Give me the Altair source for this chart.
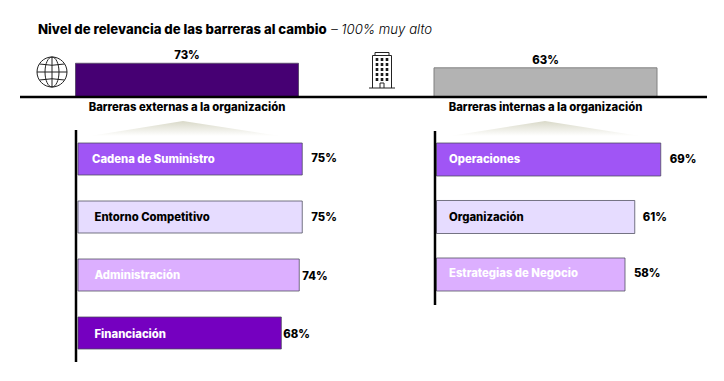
import altair as alt
import pandas as pd

FONT = "Inter"
TITLE = "Nivel de relevancia de las barreras al cambio"
SUBTITLE = "– 100% muy alto"

top_names = ["Barreras externas a la organización", "Barreras internas a la organización"]
top_values = [73, 63]
top_colors = ["#460073", "#b3b3b3"]
top_strokes = ["#5d4a70", "#808080"]

left_names = ["Cadena de Suministro", "Entorno Competitivo", "Administración", "Financiación"]
left_values = [75, 75, 74, 68]
left_colors = ["#a055f5", "#e6dcff", "#dcafff", "#7500c0"]
left_text = ["white", "black", "white", "white"]

right_names = ["Operaciones", "Organización", "Estrategias de Negocio"]
right_values = [69, 61, 58]
right_colors = ["#a055f5", "#e6dcff", "#dcafff"]
right_text = ["white", "black", "white"]

one = pd.DataFrame({"a": [0]})
layers = []


def px(x):
    return alt.value(x - 8)


def py(y):
    return alt.value(y - 8)


def free_text(text, x, y, **kw):
    opts = dict(font=FONT, fontSize=11.3, fontWeight=800, color="black", baseline="middle", align="left")
    opts.update(kw)
    return alt.Chart(one).mark_text(text=text, **opts).encode(x=px(x), y=py(y))


def rule(x, x2, y, y2, w):
    return alt.Chart(one).mark_rule(color="black", strokeWidth=w).encode(
        x=px(x), x2=px(x2), y=py(y), y2=py(y2)
    )


def icon(path, x, y, filled=False, width=1.0, **kw):
    opts = dict(shape=path, size=4, opacity=1)
    if filled:
        opts.update(filled=True, fill=kw.pop("fill", "#1a1a1a"), strokeWidth=0)
    else:
        opts.update(filled=False, stroke="#222222", strokeWidth=width)
    opts.update(kw)
    return alt.Chart(one).mark_point(**opts).encode(x=px(x), y=py(y))


def top_bar(i, x0, x1):
    df = pd.DataFrame({"name": [top_names[i]], "v": [top_values[i]]})
    df["lbl"] = df["v"].astype(str) + "%"
    xs = alt.X("name:N", axis=None, scale=alt.Scale(type="band", domain=[top_names[i]], range=[x0 - 8, x1 - 8], paddingInner=0, paddingOuter=0))
    ys = alt.Y("v:Q", axis=None, scale=alt.Scale(domain=[0, 100], range=[88.5, 43], nice=False))
    base = alt.Chart(df).encode(x=xs, y=ys)
    return [
        base.mark_bar(color=top_colors[i], stroke=top_strokes[i], strokeWidth=1, width=alt.RelativeBandSize(band=1)),
        base.mark_text(font=FONT, fontSize=11.3, fontWeight=800, color="black", baseline="middle", dy=-7).encode(text="lbl:N"),
    ]


def bars(names, values, colors, text_colors, x0, ppp, y0, y1, pad, name_dx, val_dx, name_dy, val_dy):
    df = pd.DataFrame({"name": names, "v": values, "zero": [0] * len(names)})
    df["lbl"] = df["v"].astype(str) + "%"
    xscale = alt.Scale(domain=[0, 100], range=[x0 - 8, x0 - 8 + ppp * 100], nice=False)
    yenc = alt.Y("name:N", axis=None, sort=names,
                 scale=alt.Scale(type="band", domain=names, range=[y0 - 8, y1 - 8], paddingInner=pad, paddingOuter=0))
    out = [
        alt.Chart(df).mark_bar(stroke="#4a4a5a", strokeOpacity=0.75, strokeWidth=1).encode(
            x=alt.X("zero:Q", axis=None, scale=xscale),
            x2=alt.X2("v:Q"),
            y=yenc,
            color=alt.Color("name:N", legend=None, scale=alt.Scale(domain=names, range=colors)),
        )
    ]
    for i, nm in enumerate(names):
        row = df[df["name"] == nm]
        out.append(
            alt.Chart(row).mark_text(
                font=FONT, fontSize=11.3, fontWeight=800, align="left", baseline="middle",
                color=text_colors[i], dx=name_dx[i], dy=name_dy[i],
            ).encode(x=alt.X("zero:Q", axis=None, scale=xscale), y=yenc, text="name:N")
        )
        out.append(
            alt.Chart(row).mark_text(
                font=FONT, fontSize=11.3, fontWeight=800, align="left", baseline="middle",
                color="black", dx=val_dx[i], dy=val_dy[i],
            ).encode(x=alt.X("v:Q", axis=None, scale=xscale), y=yenc, text="lbl:N")
        )
    return out


globe = ("M-15,0 A15,15 0 1,1 15,0 A15,15 0 1,1 -15,0 Z "
         "M-7,0 A7,15 0 1,1 7,0 A7,15 0 1,1 -7,0 Z "
         "M0,-15 L0,15 M-15,0 L15,0 "
         "M-12.5,-8 Q0,-5.5 12.5,-8 M-12.5,8 Q0,5.5 12.5,8")
building = ("M-9.5,17.5 L-9.5,-15 L9.5,-15 L9.5,17.5 "
            "M-7,-15 L-7,-18 L7,-18 L7,-15 "
            "M-13,17.5 L13,17.5 M-2,17.5 L-2,12.5 L2,12.5 L2,17.5")
windows = " ".join(
    f"M{cx-1.3},{cy-1.5} h2.6 v3 h-2.6 Z"
    for cy in (-11, -6, -1, 4, 9) for cx in (-5, 0, 5)
)
triangle_l = "M-2,-7.5 L95,7.5 L-95,7.5 Z"
triangle_r = "M0,-7.5 L95,7.5 L-95,7.5 Z"
fade = alt.Gradient(
    gradient="linear", x1=0, y1=0, x2=0, y2=1,
    stops=[alt.GradientStop(offset=0, color="#d9d9c8"), alt.GradientStop(offset=1, color="#ffffff")],
)

layers += [
    free_text(TITLE, 38, 30, fontSize=13.2),
    free_text(SUBTITLE, 331, 30, fontSize=13.2, fontWeight=300, fontStyle="italic"),
    icon(globe, 52, 72),
    icon(building, 382, 70.5),
    icon(windows, 382, 70.5, filled=True),
]
layers += top_bar(0, 75.5, 298.5)
layers += top_bar(1, 434, 657)
layers += [
    rule(20, 707, 97, 97, 2.5),
    free_text(top_names[0], 187, 107.5, align="center"),
    free_text(top_names[1], 545.5, 107.5, align="center"),
    icon(triangle_l, 185, 128.5, filled=True, fill=fade),
    icon(triangle_r, 545, 128.5, filled=True, fill=fade),
]
layers += bars(left_names, left_values, left_colors, left_text, 78, 2.99, 143, 349, 26 / 58,
               [14, 16.5, 16.5, 16.5], [9, 9, 3, 2], [1, 1, 1, 2], [0, 1, 2, 2])
layers += bars(right_names, right_values, right_colors, right_text, 436.5, 3.25, 143, 291, 0.426,
               [12.5, 12.5, 12.5], [9, 8, 9], [0, 1, 0], [0, 1, 0])
layers += [rule(76, 76, 130, 362, 2.5), rule(435, 435, 131, 305, 2.5)]

chart = (
    alt.layer(*layers)
    .resolve_scale(x="independent", y="independent", color="independent")
    .properties(width=708, height=365, padding=0, autosize=alt.AutoSizeParams(type="none"))
    .configure_view(stroke=None)
)
chart.save("out.html", embed_options={"renderer": "svg", "actions": False})
